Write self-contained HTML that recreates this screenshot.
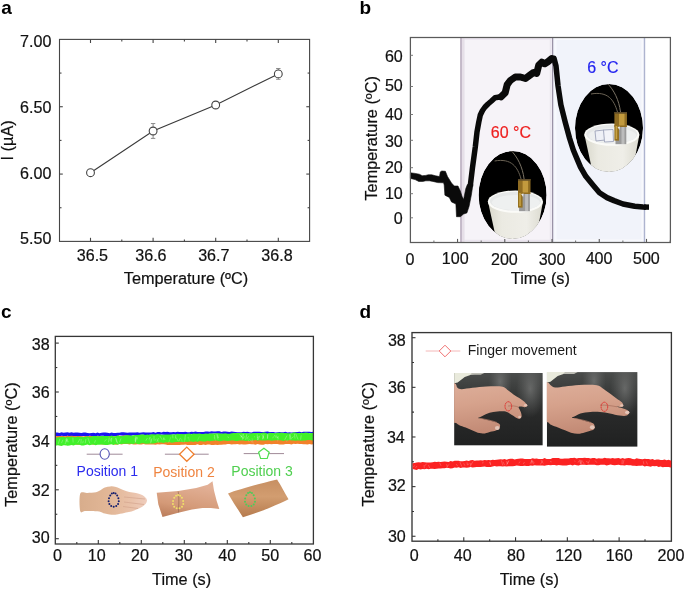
<!DOCTYPE html>
<html><head><meta charset="utf-8"><style>
html,body{margin:0;padding:0;background:#fff;}
svg{display:block;filter:blur(0.35px);}
text{font-family:"Liberation Sans", sans-serif;}
</style></head><body>
<svg width="685" height="590" viewBox="0 0 685 590" font-family="Liberation Sans, sans-serif">
<rect width="685" height="590" fill="#fff"/>
<text x="1.30" y="14.10" font-size="19" text-anchor="start" fill="#000" font-weight="bold" >a</text>
<text x="359.50" y="14.30" font-size="19" text-anchor="start" fill="#000" font-weight="bold" >b</text>
<text x="1.10" y="317.60" font-size="19" text-anchor="start" fill="#000" font-weight="bold" >c</text>
<text x="359.50" y="317.90" font-size="19" text-anchor="start" fill="#000" font-weight="bold" >d</text>
<rect x="59.50" y="39.40" width="250.10" height="202.00" fill="none" stroke="#454545" stroke-width="1.1"/>
<line x1="90.50" y1="241.40" x2="90.50" y2="237.80" stroke="#454545" stroke-width="1.1" />
<line x1="90.50" y1="39.40" x2="90.50" y2="43.00" stroke="#454545" stroke-width="1.1" />
<text x="92.40" y="261.40" font-size="16.1" text-anchor="middle" fill="#111" stroke="#111" stroke-width="0.2">36.5</text>
<line x1="153.10" y1="241.40" x2="153.10" y2="237.80" stroke="#454545" stroke-width="1.1" />
<line x1="153.10" y1="39.40" x2="153.10" y2="43.00" stroke="#454545" stroke-width="1.1" />
<text x="150.90" y="261.40" font-size="16.1" text-anchor="middle" fill="#111" stroke="#111" stroke-width="0.2">36.6</text>
<line x1="215.70" y1="241.40" x2="215.70" y2="237.80" stroke="#454545" stroke-width="1.1" />
<line x1="215.70" y1="39.40" x2="215.70" y2="43.00" stroke="#454545" stroke-width="1.1" />
<text x="213.80" y="261.40" font-size="16.1" text-anchor="middle" fill="#111" stroke="#111" stroke-width="0.2">36.7</text>
<line x1="278.30" y1="241.40" x2="278.30" y2="237.80" stroke="#454545" stroke-width="1.1" />
<line x1="278.30" y1="39.40" x2="278.30" y2="43.00" stroke="#454545" stroke-width="1.1" />
<text x="277.00" y="261.40" font-size="16.1" text-anchor="middle" fill="#111" stroke="#111" stroke-width="0.2">36.8</text>
<line x1="121.80" y1="241.40" x2="121.80" y2="239.40" stroke="#454545" stroke-width="1.1" />
<line x1="121.80" y1="39.40" x2="121.80" y2="41.40" stroke="#454545" stroke-width="1.1" />
<line x1="184.40" y1="241.40" x2="184.40" y2="239.40" stroke="#454545" stroke-width="1.1" />
<line x1="184.40" y1="39.40" x2="184.40" y2="41.40" stroke="#454545" stroke-width="1.1" />
<line x1="247.00" y1="241.40" x2="247.00" y2="239.40" stroke="#454545" stroke-width="1.1" />
<line x1="247.00" y1="39.40" x2="247.00" y2="41.40" stroke="#454545" stroke-width="1.1" />
<line x1="59.50" y1="106.73" x2="62.80" y2="106.73" stroke="#454545" stroke-width="1.1" />
<line x1="309.60" y1="106.73" x2="306.30" y2="106.73" stroke="#454545" stroke-width="1.1" />
<line x1="59.50" y1="174.07" x2="62.80" y2="174.07" stroke="#454545" stroke-width="1.1" />
<line x1="309.60" y1="174.07" x2="306.30" y2="174.07" stroke="#454545" stroke-width="1.1" />
<line x1="59.50" y1="73.07" x2="61.50" y2="73.07" stroke="#454545" stroke-width="1.1" />
<line x1="309.60" y1="73.07" x2="307.60" y2="73.07" stroke="#454545" stroke-width="1.1" />
<line x1="59.50" y1="140.40" x2="61.50" y2="140.40" stroke="#454545" stroke-width="1.1" />
<line x1="309.60" y1="140.40" x2="307.60" y2="140.40" stroke="#454545" stroke-width="1.1" />
<line x1="59.50" y1="207.74" x2="61.50" y2="207.74" stroke="#454545" stroke-width="1.1" />
<line x1="309.60" y1="207.74" x2="307.60" y2="207.74" stroke="#454545" stroke-width="1.1" />
<text x="51.40" y="46.60" font-size="16.1" text-anchor="end" fill="#111" stroke="#111" stroke-width="0.2">7.00</text>
<text x="51.40" y="112.80" font-size="16.1" text-anchor="end" fill="#111" stroke="#111" stroke-width="0.2">6.50</text>
<text x="51.40" y="179.00" font-size="16.1" text-anchor="end" fill="#111" stroke="#111" stroke-width="0.2">6.00</text>
<text x="51.40" y="244.10" font-size="16.1" text-anchor="end" fill="#111" stroke="#111" stroke-width="0.2">5.50</text>
<text x="186.00" y="284.40" font-size="16.3" text-anchor="middle" fill="#111" stroke="#111" stroke-width="0.2">Temperature (ºC)</text>
<text x="0" y="0" font-size="16.3" text-anchor="middle" fill="#111" stroke="#111" stroke-width="0.2" transform="translate(13.20,140.40) rotate(-90)">I (µA)</text>
<polyline points="90.5,172.7 153.1,131.0 215.7,105.0 278.3,73.9" fill="none" stroke="#3a3a3a" stroke-width="1.1" />
<line x1="90.50" y1="171.11" x2="90.50" y2="174.34" stroke="#8a8a8a" stroke-width="1" />
<line x1="88.30" y1="171.11" x2="92.70" y2="171.11" stroke="#8a8a8a" stroke-width="1" />
<line x1="88.30" y1="174.34" x2="92.70" y2="174.34" stroke="#8a8a8a" stroke-width="1" />
<circle cx="90.50" cy="172.72" r="3.9" fill="#fff" stroke="#444" stroke-width="1.1"/>
<line x1="153.10" y1="123.57" x2="153.10" y2="138.38" stroke="#8a8a8a" stroke-width="1" />
<line x1="150.90" y1="123.57" x2="155.30" y2="123.57" stroke="#8a8a8a" stroke-width="1" />
<line x1="150.90" y1="138.38" x2="155.30" y2="138.38" stroke="#8a8a8a" stroke-width="1" />
<circle cx="153.10" cy="130.98" r="3.9" fill="#fff" stroke="#444" stroke-width="1.1"/>
<line x1="215.70" y1="102.29" x2="215.70" y2="107.68" stroke="#8a8a8a" stroke-width="1" />
<line x1="213.50" y1="102.29" x2="217.90" y2="102.29" stroke="#8a8a8a" stroke-width="1" />
<line x1="213.50" y1="107.68" x2="217.90" y2="107.68" stroke="#8a8a8a" stroke-width="1" />
<circle cx="215.70" cy="104.98" r="3.9" fill="#fff" stroke="#444" stroke-width="1.1"/>
<line x1="278.30" y1="68.49" x2="278.30" y2="79.26" stroke="#8a8a8a" stroke-width="1" />
<line x1="276.10" y1="68.49" x2="280.50" y2="68.49" stroke="#8a8a8a" stroke-width="1" />
<line x1="276.10" y1="79.26" x2="280.50" y2="79.26" stroke="#8a8a8a" stroke-width="1" />
<circle cx="278.30" cy="73.88" r="3.9" fill="#fff" stroke="#444" stroke-width="1.1"/>
<rect x="460.5" y="37.5" width="92" height="205.0" fill="#f6f3f8"/>
<rect x="552.5" y="37.5" width="92" height="205.0" fill="#f1f3fa"/>
<rect x="463.5" y="39.0" width="87" height="201.5" fill="none" stroke="#ebe5ef" stroke-width="1.5"/>
<rect x="555.5" y="39.0" width="87" height="201.5" fill="none" stroke="#f8f9fd" stroke-width="2"/>
<rect x="461.5" y="37.5" width="3" height="205.0" fill="#e6dfe8"/>
<line x1="461.00" y1="37.50" x2="461.00" y2="242.50" stroke="#b9adbf" stroke-width="1.6" />
<line x1="552.60" y1="37.50" x2="552.60" y2="242.50" stroke="#9a92a6" stroke-width="1.3" />
<line x1="644.50" y1="37.50" x2="644.50" y2="242.50" stroke="#aeb4cf" stroke-width="1.4" />
<clipPath id="clip-96"><ellipse cx="609" cy="128" rx="34" ry="44"/></clipPath>
<linearGradient id="cupg-96" x1="0" y1="0" x2="1" y2="0"><stop offset="0" stop-color="#d9d8cc"/><stop offset="0.25" stop-color="#ebeae2"/><stop offset="0.7" stop-color="#efeee8"/><stop offset="1" stop-color="#dcdbd0"/></linearGradient>
<g transform="translate(-96.4,67)"><g clip-path="url(#clip-96)">
<ellipse cx="609" cy="128" rx="34" ry="44" fill="#000"/>
<path d="M617.5,112 C614,100 608,91 591,94" fill="none" stroke="#6a6254" stroke-width="1.0"/>
<path d="M620.5,112 C619,100 614,90 607,83" fill="none" stroke="#7a7264" stroke-width="1.0"/>
<path d="M584.5,135 L593,174 L632,174 L639.3,135 Z" fill="url(#cupg-96)"/>
<ellipse cx="611.8" cy="134.6" rx="27.6" ry="11.2" fill="#fbfbf8"/>
<ellipse cx="611.8" cy="134.2" rx="25.6" ry="9.4" fill="#e6e8e8"/>
<ellipse cx="612.3" cy="135.6" rx="24" ry="7.6" fill="#eef0f0"/>
<rect x="615.5" y="112" width="10.8" height="32.2" fill="#9a9a9a"/>
<rect x="621.5" y="112" width="3" height="32" fill="#bcbcbc"/>
<rect x="614.4" y="112" width="12.5" height="15" fill="#8f6c22"/>
<rect x="619" y="113.5" width="5.5" height="12" fill="#c29a3e"/>
<rect x="614.4" y="125" width="4.6" height="15.6" fill="#94701f"/>
<rect x="615.6" y="126" width="1.6" height="13" fill="#c8a244"/>
<rect x="614.4" y="112" width="12.5" height="1.6" fill="#5c4a2a"/>
<path d="M617.5,127 L620,126.5 L619.5,130 Z" fill="#e8e8e8"/>
</g></g>
<clipPath id="clip0"><ellipse cx="609" cy="128" rx="34" ry="44"/></clipPath>
<linearGradient id="cupg0" x1="0" y1="0" x2="1" y2="0"><stop offset="0" stop-color="#d9d8cc"/><stop offset="0.25" stop-color="#ebeae2"/><stop offset="0.7" stop-color="#efeee8"/><stop offset="1" stop-color="#dcdbd0"/></linearGradient>
<g transform="translate(0,0)"><g clip-path="url(#clip0)">
<ellipse cx="609" cy="128" rx="34" ry="44" fill="#000"/>
<path d="M617.5,112 C614,100 608,91 591,94" fill="none" stroke="#6a6254" stroke-width="1.0"/>
<path d="M620.5,112 C619,100 614,90 607,83" fill="none" stroke="#7a7264" stroke-width="1.0"/>
<path d="M584.5,135 L593,174 L632,174 L639.3,135 Z" fill="url(#cupg0)"/>
<ellipse cx="611.8" cy="134.6" rx="27.6" ry="11.2" fill="#fbfbf8"/>
<ellipse cx="611.8" cy="134.2" rx="25.6" ry="9.4" fill="#e6e8e8"/>
<ellipse cx="612.3" cy="135.6" rx="24" ry="7.6" fill="#eef0f0"/>
<path d="M595,131 L604,130 L605,140 L596,141 Z" fill="#eef0f6" stroke="#9ea4ba" stroke-width="0.9"/>
<path d="M603.5,130 L613,129.5 L613.5,141.5 L604.5,142 Z" fill="#f2f3f8" stroke="#9ea4ba" stroke-width="0.9"/>
<rect x="615.5" y="112" width="10.8" height="32.2" fill="#9a9a9a"/>
<rect x="621.5" y="112" width="3" height="32" fill="#bcbcbc"/>
<rect x="614.4" y="112" width="12.5" height="15" fill="#8f6c22"/>
<rect x="619" y="113.5" width="5.5" height="12" fill="#c29a3e"/>
<rect x="614.4" y="125" width="4.6" height="15.6" fill="#94701f"/>
<rect x="615.6" y="126" width="1.6" height="13" fill="#c8a244"/>
<rect x="614.4" y="112" width="12.5" height="1.6" fill="#5c4a2a"/>
<path d="M617.5,127 L620,126.5 L619.5,130 Z" fill="#e8e8e8"/>
</g></g>
<polygon points="410.4,172.8 415.1,173.4 419.3,174.2 422.2,175.7 425.8,175.4 428.2,174.8 431.7,174.8 435.3,175.7 439.5,176.6 440.3,171.9 441.8,171.0 445.4,171.3 447.5,176.5 451.5,183.0 454.3,186.0 458.0,186.0 460.3,191.0 462.0,196.3 463.6,199.6 465.8,188.6 467.4,184.5 473.0,184.5 472.4,188.1 471.3,195.2 469.1,206.3 466.9,212.9 463.6,214.0 460.3,216.7 456.5,216.7 455.9,204.0 451.5,201.9 449.3,197.4 444.9,195.2 444.2,185.0 443.6,182.8 437.7,182.6 432.9,181.4 429.4,180.8 425.8,180.8 422.8,181.4 418.7,181.4 415.1,179.6 410.4,178.4" fill="#0a0a0a" stroke="#0a0a0a" stroke-width="0.6" stroke-linejoin="round"/>
<polyline points="470.2,186.5 472.5,167.5 475.3,147.0 477.0,132.0 478.8,122.0 480.3,115.0 482.5,110.5 485.0,107.0 488.0,104.0 491.5,101.0 495.0,97.8 501.1,96.8 505.2,92.7 507.2,84.6 510.3,80.5 515.3,77.0 520.4,77.0 525.5,78.5 529.6,75.4 533.7,72.4 536.7,73.4 538.7,65.3 541.8,62.2 544.8,63.8 547.9,61.8 551.5,58.8 554.0,58.3 556.0,66.0 558.0,85.6 560.9,104.8 565.2,122.1 569.5,138.0 573.3,150.0 576.6,157.9 580.5,167.1 585.8,176.3 592.3,184.2 599.5,192.8 607.0,197.6 614.0,200.6 623.0,204.0 634.7,206.2 643.0,207.0 646.0,207.2" fill="none" stroke="#0a0a0a" stroke-width="5.5" stroke-linejoin="round" stroke-linecap="butt"/>
<polyline points="501.1,96.8 505.2,92.7 507.2,84.6 510.3,80.5 515.3,77.0 520.4,77.0 525.5,78.5 529.6,75.4 533.7,72.4 536.7,73.4 538.7,65.3 541.8,62.2 544.8,63.8 547.9,61.8 551.5,58.8" fill="none" stroke="#0a0a0a" stroke-width="7.0" stroke-linejoin="round" stroke-linecap="round"/>
<rect x="644" y="204.4" width="5" height="5.4" fill="#0a0a0a"/>
<text x="510.90" y="137.70" font-size="16" text-anchor="middle" fill="#ee2020" stroke="#ee2020" stroke-width="0.2">60 °C</text>
<text x="602.90" y="72.90" font-size="16" text-anchor="middle" fill="#2424f0" stroke="#2424f0" stroke-width="0.2">6 °C</text>
<rect x="410.40" y="37.50" width="260.00" height="205.00" fill="none" stroke="#5a5a5a" stroke-width="1.25"/>
<line x1="410.40" y1="55.30" x2="413.00" y2="55.30" stroke="#7a7a7a" stroke-width="1.0" />
<text x="402.80" y="61.80" font-size="16.1" text-anchor="end" fill="#111" stroke="#111" stroke-width="0.2">60</text>
<line x1="410.40" y1="86.50" x2="413.00" y2="86.50" stroke="#7a7a7a" stroke-width="1.0" />
<text x="402.80" y="91.40" font-size="16.1" text-anchor="end" fill="#111" stroke="#111" stroke-width="0.2">50</text>
<line x1="410.40" y1="114.50" x2="413.00" y2="114.50" stroke="#7a7a7a" stroke-width="1.0" />
<text x="402.80" y="120.20" font-size="16.1" text-anchor="end" fill="#111" stroke="#111" stroke-width="0.2">40</text>
<line x1="410.40" y1="140.30" x2="413.00" y2="140.30" stroke="#7a7a7a" stroke-width="1.0" />
<text x="402.80" y="147.00" font-size="16.1" text-anchor="end" fill="#111" stroke="#111" stroke-width="0.2">30</text>
<line x1="410.40" y1="167.70" x2="413.00" y2="167.70" stroke="#7a7a7a" stroke-width="1.0" />
<text x="402.80" y="172.90" font-size="16.1" text-anchor="end" fill="#111" stroke="#111" stroke-width="0.2">20</text>
<line x1="410.40" y1="193.70" x2="413.00" y2="193.70" stroke="#7a7a7a" stroke-width="1.0" />
<text x="402.80" y="199.00" font-size="16.1" text-anchor="end" fill="#111" stroke="#111" stroke-width="0.2">10</text>
<line x1="410.40" y1="217.80" x2="413.00" y2="217.80" stroke="#7a7a7a" stroke-width="1.0" />
<text x="402.80" y="224.40" font-size="16.1" text-anchor="end" fill="#111" stroke="#111" stroke-width="0.2">0</text>
<text x="409.90" y="265.20" font-size="16.1" text-anchor="middle" fill="#111" stroke="#111" stroke-width="0.2">0</text>
<line x1="433.92" y1="242.50" x2="433.92" y2="240.50" stroke="#6a6a6a" stroke-width="1.0" />
<line x1="457.54" y1="242.50" x2="457.54" y2="238.90" stroke="#5a5a5a" stroke-width="1.1" />
<text x="455.20" y="264.20" font-size="16.1" text-anchor="middle" fill="#111" stroke="#111" stroke-width="0.2">100</text>
<line x1="481.16" y1="242.50" x2="481.16" y2="240.50" stroke="#6a6a6a" stroke-width="1.0" />
<line x1="504.78" y1="242.50" x2="504.78" y2="238.90" stroke="#5a5a5a" stroke-width="1.1" />
<text x="504.40" y="264.60" font-size="16.1" text-anchor="middle" fill="#111" stroke="#111" stroke-width="0.2">200</text>
<line x1="528.40" y1="242.50" x2="528.40" y2="240.50" stroke="#6a6a6a" stroke-width="1.0" />
<line x1="552.02" y1="242.50" x2="552.02" y2="238.90" stroke="#5a5a5a" stroke-width="1.1" />
<text x="552.10" y="264.60" font-size="16.1" text-anchor="middle" fill="#111" stroke="#111" stroke-width="0.2">300</text>
<line x1="575.64" y1="242.50" x2="575.64" y2="240.50" stroke="#6a6a6a" stroke-width="1.0" />
<line x1="599.26" y1="242.50" x2="599.26" y2="238.90" stroke="#5a5a5a" stroke-width="1.1" />
<text x="599.10" y="264.10" font-size="16.1" text-anchor="middle" fill="#111" stroke="#111" stroke-width="0.2">400</text>
<line x1="622.88" y1="242.50" x2="622.88" y2="240.50" stroke="#6a6a6a" stroke-width="1.0" />
<line x1="646.50" y1="242.50" x2="646.50" y2="238.90" stroke="#5a5a5a" stroke-width="1.1" />
<text x="646.40" y="264.10" font-size="16.1" text-anchor="middle" fill="#111" stroke="#111" stroke-width="0.2">500</text>
<line x1="670.12" y1="242.50" x2="670.12" y2="240.50" stroke="#6a6a6a" stroke-width="1.0" />
<text x="540.40" y="283.50" font-size="16.3" text-anchor="middle" fill="#111" stroke="#111" stroke-width="0.2">Time (s)</text>
<text x="0" y="0" font-size="16.3" text-anchor="middle" fill="#111" stroke="#111" stroke-width="0.2" transform="translate(376.50,138.30) rotate(-90)">Temperature (ºC)</text>
<line x1="55.30" y1="538.70" x2="58.80" y2="538.70" stroke="#363636" stroke-width="1.1" />
<line x1="55.30" y1="489.80" x2="58.80" y2="489.80" stroke="#363636" stroke-width="1.1" />
<line x1="55.30" y1="440.90" x2="58.80" y2="440.90" stroke="#363636" stroke-width="1.1" />
<line x1="55.30" y1="392.00" x2="58.80" y2="392.00" stroke="#363636" stroke-width="1.1" />
<line x1="55.30" y1="343.10" x2="58.80" y2="343.10" stroke="#363636" stroke-width="1.1" />
<line x1="55.30" y1="514.25" x2="57.30" y2="514.25" stroke="#363636" stroke-width="1.1" />
<line x1="55.30" y1="465.35" x2="57.30" y2="465.35" stroke="#363636" stroke-width="1.1" />
<line x1="55.30" y1="416.45" x2="57.30" y2="416.45" stroke="#363636" stroke-width="1.1" />
<line x1="55.30" y1="367.55" x2="57.30" y2="367.55" stroke="#363636" stroke-width="1.1" />
<polygon points="55.5,432.5 57.5,432.4 59.5,432.9 61.5,432.3 63.5,432.8 65.5,432.6 67.5,432.3 69.5,432.8 71.5,432.3 73.5,432.7 75.5,432.4 77.5,432.4 79.5,432.7 81.5,433.1 83.5,432.5 85.5,432.6 87.5,432.9 89.5,433.2 91.5,432.9 93.5,432.7 95.5,433.3 97.5,432.4 99.5,433.2 101.5,432.7 103.5,432.6 105.5,432.5 107.5,432.7 109.5,433.2 111.5,432.6 113.5,432.9 115.5,432.9 117.5,432.7 119.5,432.8 121.5,432.3 123.5,432.3 125.5,432.4 127.5,432.8 129.5,432.5 131.5,432.4 133.5,432.6 135.5,432.5 137.5,432.3 139.5,432.7 141.5,432.6 143.5,432.2 145.5,432.4 147.5,432.4 149.5,432.6 151.5,432.5 153.5,432.1 155.5,432.7 157.5,431.9 159.5,432.1 161.5,432.4 163.5,431.8 165.5,432.1 167.5,431.7 169.5,432.2 171.5,432.3 173.5,432.1 175.5,432.3 177.5,431.8 179.5,432.1 181.5,432.0 183.5,432.0 185.5,431.8 187.5,432.2 189.5,432.2 191.5,431.8 193.5,431.9 195.5,431.4 197.5,431.9 199.5,431.9 201.5,432.1 203.5,432.0 205.5,431.5 207.5,431.5 209.5,431.8 211.5,431.2 213.5,431.6 215.5,431.4 217.5,431.3 219.5,431.3 221.5,432.0 223.5,431.4 225.5,431.5 227.5,431.7 229.5,432.1 231.5,431.4 233.5,431.8 235.5,431.9 237.5,432.2 239.5,432.2 241.5,432.2 243.5,431.7 245.5,431.9 247.5,431.8 249.5,432.3 251.5,432.4 253.5,431.7 255.5,431.7 257.5,431.8 259.5,431.8 261.5,432.0 263.5,432.1 265.5,431.8 267.5,431.6 269.5,432.0 271.5,431.9 273.5,432.1 275.5,432.4 277.5,432.2 279.5,432.1 281.5,432.2 283.5,432.2 285.5,431.7 287.5,432.4 289.5,432.3 291.5,432.4 293.5,432.3 295.5,432.0 297.5,432.0 299.5,431.7 301.5,432.2 303.5,431.7 305.5,431.7 307.5,431.8 309.5,431.8 311.5,432.0 313.2,431.7 313.2,433.2 311.5,433.3 309.5,433.3 307.5,433.5 305.5,433.2 303.5,434.0 301.5,433.7 299.5,433.3 297.5,433.4 295.5,433.5 293.5,433.5 291.5,433.3 289.5,434.0 287.5,434.1 285.5,433.7 283.5,433.7 281.5,433.3 279.5,433.3 277.5,433.6 275.5,433.5 273.5,434.0 271.5,433.4 269.5,433.3 267.5,434.2 265.5,433.8 263.5,433.4 261.5,433.8 259.5,433.3 257.5,433.8 255.5,434.2 253.5,434.1 251.5,434.0 249.5,433.6 247.5,433.7 245.5,433.5 243.5,434.1 241.5,433.9 239.5,434.1 237.5,433.7 235.5,433.6 233.5,434.2 231.5,434.3 229.5,434.2 227.5,434.2 225.5,434.2 223.5,434.1 221.5,433.7 219.5,434.0 217.5,433.8 215.5,433.5 213.5,433.6 211.5,433.8 209.5,433.8 207.5,434.2 205.5,434.5 203.5,434.1 201.5,434.5 199.5,434.6 197.5,434.6 195.5,434.1 193.5,434.0 191.5,434.0 189.5,434.0 187.5,434.1 185.5,434.5 183.5,434.8 181.5,434.7 179.5,434.4 177.5,434.6 175.5,434.8 173.5,434.2 171.5,434.7 169.5,435.0 167.5,434.9 165.5,434.9 163.5,434.7 161.5,434.4 159.5,435.0 157.5,434.6 155.5,435.1 153.5,435.3 151.5,434.8 149.5,434.8 147.5,435.4 145.5,435.2 143.5,434.8 141.5,434.8 139.5,434.9 137.5,435.6 135.5,435.6 133.5,435.0 131.5,435.7 129.5,435.9 127.5,435.7 125.5,435.4 123.5,435.7 121.5,435.4 119.5,435.3 117.5,436.2 115.5,436.0 113.5,435.9 111.5,436.3 109.5,435.9 107.5,436.3 105.5,436.3 103.5,435.8 101.5,435.8 99.5,435.9 97.5,435.8 95.5,436.2 93.5,435.9 91.5,436.0 89.5,435.8 87.5,436.5 85.5,436.0 83.5,436.1 81.5,436.2 79.5,436.5 77.5,436.1 75.5,436.6 73.5,436.2 71.5,436.2 69.5,436.2 67.5,435.8 65.5,436.2 63.5,436.0 61.5,435.8 59.5,436.5 57.5,436.0 55.5,436.3" fill="#1a14f2" />
<polygon points="55.5,436.2 57.5,436.1 59.5,435.9 61.5,436.0 63.5,436.1 65.5,436.3 67.5,435.7 69.5,436.1 71.5,435.8 73.5,435.9 75.5,436.3 77.5,436.1 79.5,436.1 81.5,436.3 83.5,436.5 85.5,436.1 87.5,436.2 89.5,436.1 91.5,436.1 93.5,436.3 95.5,436.1 97.5,436.2 99.5,436.1 101.5,436.6 103.5,436.4 105.5,436.5 107.5,436.6 109.5,436.0 111.5,436.2 113.5,436.5 115.5,436.4 117.5,435.7 119.5,435.7 121.5,435.9 123.5,435.6 125.5,435.7 127.5,435.5 129.5,436.0 131.5,436.1 133.5,436.1 135.5,435.4 137.5,435.9 139.5,435.8 141.5,435.3 143.5,436.0 145.5,436.0 147.5,435.3 149.5,435.9 151.5,435.4 153.5,435.5 155.5,436.0 157.5,435.8 159.5,435.3 161.5,435.5 163.5,435.6 165.5,435.5 167.5,435.3 169.5,435.5 171.5,435.8 173.5,435.2 175.5,435.7 177.5,435.6 179.5,435.2 181.5,435.5 183.5,435.8 185.5,435.7 187.5,435.3 189.5,436.2 191.5,436.0 193.5,436.2 195.5,435.4 197.5,435.6 199.5,435.4 201.5,436.1 203.5,435.6 205.5,435.5 207.5,435.8 209.5,436.2 211.5,436.2 213.5,435.7 215.5,435.6 217.5,436.3 219.5,436.0 221.5,436.1 223.5,435.6 225.5,435.6 227.5,436.1 229.5,435.9 231.5,435.6 233.5,436.4 235.5,436.1 237.5,436.3 239.5,435.7 241.5,436.4 243.5,435.7 245.5,436.4 247.5,436.1 249.5,436.0 251.5,436.2 253.5,436.5 255.5,435.9 257.5,435.8 259.5,436.2 261.5,435.9 263.5,435.8 265.5,435.9 267.5,435.8 269.5,436.0 271.5,436.1 273.5,436.1 275.5,436.5 277.5,436.1 279.5,436.3 281.5,436.0 283.5,436.2 285.5,435.9 287.5,436.1 289.5,435.9 291.5,436.6 293.5,436.4 295.5,436.1 297.5,436.4 299.5,436.8 301.5,436.1 303.5,436.7 305.5,436.4 307.5,436.5 309.5,436.8 311.5,436.4 313.2,436.5 313.2,444.3 311.5,444.5 309.5,444.0 307.5,444.4 305.5,444.3 303.5,444.3 301.5,444.1 299.5,444.0 297.5,443.8 295.5,443.9 293.5,443.8 291.5,444.4 289.5,444.0 287.5,443.9 285.5,443.9 283.5,444.5 281.5,444.6 279.5,444.4 277.5,444.1 275.5,444.0 273.5,444.1 271.5,444.3 269.5,444.0 267.5,444.3 265.5,444.1 263.5,444.8 261.5,444.8 259.5,444.4 257.5,444.1 255.5,444.8 253.5,444.2 251.5,444.3 249.5,444.0 247.5,444.3 245.5,444.4 243.5,444.5 241.5,444.2 239.5,444.5 237.5,444.0 235.5,444.3 233.5,444.2 231.5,444.4 229.5,444.1 227.5,444.1 225.5,444.4 223.5,444.4 221.5,444.7 219.5,444.7 217.5,444.9 215.5,444.8 213.5,444.9 211.5,445.0 209.5,444.6 207.5,444.6 205.5,445.1 203.5,444.4 201.5,444.9 199.5,444.9 197.5,444.3 195.5,445.0 193.5,445.1 191.5,444.9 189.5,445.0 187.5,445.0 185.5,444.4 183.5,444.8 181.5,444.8 179.5,445.1 177.5,445.1 175.5,445.1 173.5,444.9 171.5,445.1 169.5,444.9 167.5,444.9 165.5,444.4 163.5,444.2 161.5,444.3 159.5,444.4 157.5,444.2 155.5,444.8 153.5,444.5 151.5,444.5 149.5,444.5 147.5,444.6 145.5,444.4 143.5,443.9 141.5,444.6 139.5,444.6 137.5,444.3 135.5,444.4 133.5,444.5 131.5,443.9 129.5,444.5 127.5,444.1 125.5,443.9 123.5,444.1 121.5,444.5 119.5,444.0 117.5,444.5 115.5,444.7 113.5,444.2 111.5,444.1 109.5,444.2 107.5,444.4 105.5,444.5 103.5,444.4 101.5,444.5 99.5,444.0 97.5,444.1 95.5,444.2 93.5,444.7 91.5,444.3 89.5,444.6 87.5,444.1 85.5,444.2 83.5,444.4 81.5,444.8 79.5,444.8 77.5,444.8 75.5,444.5 73.5,444.8 71.5,444.7 69.5,444.8 67.5,444.5 65.5,445.2 63.5,444.6 61.5,445.3 59.5,445.3 57.5,444.5 55.5,445.0" fill="#f2812a" />
<polygon points="55.5,437.5 57.5,437.6 59.5,437.1 61.5,436.9 63.5,436.8 65.5,437.4 67.5,436.7 69.5,437.0 71.5,436.6 73.5,436.9 75.5,437.2 77.5,436.4 79.5,437.0 81.5,436.7 83.5,437.0 85.5,436.8 87.5,436.3 89.5,436.9 91.5,436.5 93.5,436.0 95.5,435.9 97.5,436.3 99.5,436.3 101.5,436.1 103.5,435.9 105.5,436.1 107.5,436.0 109.5,436.4 111.5,435.6 113.5,436.2 115.5,436.2 117.5,435.5 119.5,436.1 121.5,435.9 123.5,436.0 125.5,435.3 127.5,435.3 129.5,435.3 131.5,435.7 133.5,435.3 135.5,435.0 137.5,435.0 139.5,434.8 141.5,434.5 143.5,434.5 145.5,435.1 147.5,434.5 149.5,435.0 151.5,434.3 153.5,434.3 155.5,434.5 157.5,434.2 159.5,434.3 161.5,434.8 163.5,434.7 165.5,434.6 167.5,434.4 169.5,434.6 171.5,434.6 173.5,434.3 175.5,434.4 177.5,433.7 179.5,434.3 181.5,434.0 183.5,434.3 185.5,434.1 187.5,433.8 189.5,433.5 191.5,434.3 193.5,433.5 195.5,433.8 197.5,433.7 199.5,433.6 201.5,434.0 203.5,434.1 205.5,433.5 207.5,433.8 209.5,433.4 211.5,433.6 213.5,433.5 215.5,433.2 217.5,433.2 219.5,433.2 221.5,433.8 223.5,433.4 225.5,433.2 227.5,433.7 229.5,433.8 231.5,433.3 233.5,433.0 235.5,433.0 237.5,432.9 239.5,433.1 241.5,432.8 243.5,432.9 245.5,432.9 247.5,433.2 249.5,433.5 251.5,433.3 253.5,433.0 255.5,433.0 257.5,433.1 259.5,432.9 261.5,432.9 263.5,432.6 265.5,432.8 267.5,433.4 269.5,432.7 271.5,433.0 273.5,433.1 275.5,433.3 277.5,432.7 279.5,432.8 281.5,432.7 283.5,432.9 285.5,432.9 287.5,433.3 289.5,433.2 291.5,433.2 293.5,432.5 295.5,432.5 297.5,433.1 299.5,433.2 301.5,432.8 303.5,432.9 305.5,432.4 307.5,432.7 309.5,433.2 311.5,433.1 313.2,433.1 313.2,440.8 311.5,440.2 309.5,440.1 307.5,440.1 305.5,440.4 303.5,440.6 301.5,440.8 299.5,440.6 297.5,440.6 295.5,440.7 293.5,440.4 291.5,440.5 289.5,440.1 287.5,440.7 285.5,440.2 283.5,440.9 281.5,440.6 279.5,440.3 277.5,440.2 275.5,440.3 273.5,440.6 271.5,440.7 269.5,440.2 267.5,440.2 265.5,440.6 263.5,440.6 261.5,440.5 259.5,440.3 257.5,440.7 255.5,440.1 253.5,440.4 251.5,440.6 249.5,441.0 247.5,440.8 245.5,441.0 243.5,440.6 241.5,440.4 239.5,440.5 237.5,441.1 235.5,440.9 233.5,440.6 231.5,440.4 229.5,440.8 227.5,441.0 225.5,440.8 223.5,440.6 221.5,441.0 219.5,441.3 217.5,440.7 215.5,440.5 213.5,440.8 211.5,440.9 209.5,441.2 207.5,440.8 205.5,441.4 203.5,441.4 201.5,441.3 199.5,441.1 197.5,441.9 195.5,441.3 193.5,441.9 191.5,441.4 189.5,441.5 187.5,442.0 185.5,441.7 183.5,442.3 181.5,442.0 179.5,441.8 177.5,441.9 175.5,442.1 173.5,442.4 171.5,442.7 169.5,442.1 167.5,442.4 165.5,442.3 163.5,443.1 161.5,442.4 159.5,442.4 157.5,442.5 155.5,442.9 153.5,443.4 151.5,443.5 149.5,443.4 147.5,443.7 145.5,443.7 143.5,443.3 141.5,443.2 139.5,444.0 137.5,443.9 135.5,443.3 133.5,443.9 131.5,443.7 129.5,443.8 127.5,443.8 125.5,443.8 123.5,443.7 121.5,444.0 119.5,444.1 117.5,444.7 115.5,444.1 113.5,444.9 111.5,444.3 109.5,444.5 107.5,444.9 105.5,445.0 103.5,444.7 101.5,444.4 99.5,444.8 97.5,444.7 95.5,445.2 93.5,444.6 91.5,444.8 89.5,445.3 87.5,444.6 85.5,445.0 83.5,445.4 81.5,445.4 79.5,444.7 77.5,444.8 75.5,444.8 73.5,445.6 71.5,445.1 69.5,445.6 67.5,445.7 65.5,445.3 63.5,445.2 61.5,445.9 59.5,445.6 57.5,445.3 55.5,445.8" fill="#41f02a" />
<line x1="136.4" y1="436.7" x2="137.7" y2="439.4" stroke="#ffffff" stroke-width="0.6" stroke-opacity="0.45"/><line x1="287.0" y1="435.5" x2="284.7" y2="439.8" stroke="#ffffff" stroke-width="0.6" stroke-opacity="0.45"/><line x1="115.7" y1="438.2" x2="118.0" y2="443.7" stroke="#ffffff" stroke-width="0.6" stroke-opacity="0.45"/><line x1="154.0" y1="436.0" x2="154.0" y2="440.4" stroke="#ffffff" stroke-width="0.6" stroke-opacity="0.45"/><line x1="290.0" y1="434.0" x2="291.1" y2="439.3" stroke="#ffffff" stroke-width="0.6" stroke-opacity="0.45"/><line x1="263.5" y1="436.1" x2="262.7" y2="438.8" stroke="#ffffff" stroke-width="0.6" stroke-opacity="0.45"/><line x1="137.2" y1="436.9" x2="135.1" y2="442.3" stroke="#ffffff" stroke-width="0.6" stroke-opacity="0.45"/><line x1="106.5" y1="439.5" x2="104.3" y2="441.3" stroke="#ffffff" stroke-width="0.6" stroke-opacity="0.45"/><line x1="65.5" y1="439.5" x2="67.9" y2="442.4" stroke="#ffffff" stroke-width="0.6" stroke-opacity="0.45"/><line x1="278.8" y1="436.7" x2="276.7" y2="437.6" stroke="#ffffff" stroke-width="0.6" stroke-opacity="0.45"/><line x1="81.2" y1="439.0" x2="80.9" y2="443.5" stroke="#ffffff" stroke-width="0.6" stroke-opacity="0.45"/><line x1="115.8" y1="437.9" x2="116.7" y2="442.5" stroke="#ffffff" stroke-width="0.6" stroke-opacity="0.45"/><line x1="244.7" y1="436.4" x2="242.8" y2="439.1" stroke="#ffffff" stroke-width="0.6" stroke-opacity="0.45"/><line x1="268.1" y1="434.5" x2="267.4" y2="438.6" stroke="#ffffff" stroke-width="0.6" stroke-opacity="0.45"/><line x1="242.3" y1="434.3" x2="241.0" y2="437.7" stroke="#ffffff" stroke-width="0.6" stroke-opacity="0.45"/><line x1="95.5" y1="440.2" x2="94.6" y2="442.8" stroke="#ffffff" stroke-width="0.6" stroke-opacity="0.45"/><line x1="156.4" y1="438.7" x2="155.1" y2="440.6" stroke="#ffffff" stroke-width="0.6" stroke-opacity="0.45"/><line x1="259.9" y1="435.7" x2="257.9" y2="440.0" stroke="#ffffff" stroke-width="0.6" stroke-opacity="0.45"/><line x1="176.2" y1="437.5" x2="178.2" y2="441.1" stroke="#ffffff" stroke-width="0.6" stroke-opacity="0.45"/><line x1="67.1" y1="438.6" x2="65.6" y2="441.6" stroke="#ffffff" stroke-width="0.6" stroke-opacity="0.45"/><line x1="301.2" y1="435.3" x2="300.6" y2="439.7" stroke="#ffffff" stroke-width="0.6" stroke-opacity="0.45"/><line x1="274.4" y1="435.0" x2="275.8" y2="437.6" stroke="#ffffff" stroke-width="0.6" stroke-opacity="0.45"/><line x1="294.4" y1="433.7" x2="295.0" y2="438.6" stroke="#ffffff" stroke-width="0.6" stroke-opacity="0.45"/><line x1="111.6" y1="437.9" x2="110.1" y2="440.8" stroke="#ffffff" stroke-width="0.6" stroke-opacity="0.45"/><line x1="121.0" y1="438.4" x2="119.5" y2="442.4" stroke="#ffffff" stroke-width="0.6" stroke-opacity="0.45"/><line x1="59.9" y1="438.8" x2="58.3" y2="443.8" stroke="#ffffff" stroke-width="0.6" stroke-opacity="0.45"/><line x1="135.4" y1="436.4" x2="135.6" y2="442.4" stroke="#ffffff" stroke-width="0.6" stroke-opacity="0.45"/><line x1="72.9" y1="437.7" x2="73.1" y2="442.5" stroke="#ffffff" stroke-width="0.6" stroke-opacity="0.45"/><line x1="217.4" y1="434.3" x2="218.4" y2="437.7" stroke="#ffffff" stroke-width="0.6" stroke-opacity="0.45"/><line x1="159.9" y1="436.0" x2="162.1" y2="439.8" stroke="#ffffff" stroke-width="0.6" stroke-opacity="0.45"/><line x1="135.4" y1="437.8" x2="135.0" y2="440.8" stroke="#ffffff" stroke-width="0.6" stroke-opacity="0.45"/><line x1="273.9" y1="436.7" x2="272.4" y2="437.9" stroke="#ffffff" stroke-width="0.6" stroke-opacity="0.45"/><line x1="239.7" y1="434.4" x2="241.7" y2="437.0" stroke="#ffffff" stroke-width="0.6" stroke-opacity="0.45"/><line x1="163.4" y1="437.9" x2="165.3" y2="440.0" stroke="#ffffff" stroke-width="0.6" stroke-opacity="0.45"/><line x1="172.7" y1="435.3" x2="172.9" y2="438.3" stroke="#ffffff" stroke-width="0.6" stroke-opacity="0.45"/><line x1="217.8" y1="436.9" x2="218.4" y2="437.5" stroke="#ffffff" stroke-width="0.6" stroke-opacity="0.45"/><line x1="150.1" y1="437.0" x2="149.0" y2="439.5" stroke="#ffffff" stroke-width="0.6" stroke-opacity="0.45"/><line x1="187.8" y1="437.6" x2="187.8" y2="438.2" stroke="#ffffff" stroke-width="0.6" stroke-opacity="0.45"/><line x1="259.0" y1="436.7" x2="257.1" y2="437.5" stroke="#ffffff" stroke-width="0.6" stroke-opacity="0.45"/><line x1="293.7" y1="436.6" x2="291.5" y2="438.3" stroke="#ffffff" stroke-width="0.6" stroke-opacity="0.45"/><line x1="289.5" y1="434.7" x2="290.1" y2="439.7" stroke="#ffffff" stroke-width="0.6" stroke-opacity="0.45"/><line x1="264.0" y1="434.1" x2="262.6" y2="439.4" stroke="#ffffff" stroke-width="0.6" stroke-opacity="0.45"/><line x1="158.5" y1="438.1" x2="156.9" y2="441.7" stroke="#ffffff" stroke-width="0.6" stroke-opacity="0.45"/><line x1="111.8" y1="438.0" x2="111.2" y2="442.2" stroke="#ffffff" stroke-width="0.6" stroke-opacity="0.45"/><line x1="87.9" y1="438.0" x2="89.9" y2="443.5" stroke="#ffffff" stroke-width="0.6" stroke-opacity="0.45"/><line x1="67.3" y1="439.5" x2="65.0" y2="444.0" stroke="#ffffff" stroke-width="0.6" stroke-opacity="0.45"/><line x1="267.4" y1="433.9" x2="267.6" y2="438.7" stroke="#ffffff" stroke-width="0.6" stroke-opacity="0.45"/><line x1="214.4" y1="435.0" x2="214.8" y2="438.6" stroke="#ffffff" stroke-width="0.6" stroke-opacity="0.45"/><line x1="163.9" y1="437.3" x2="163.6" y2="440.1" stroke="#ffffff" stroke-width="0.6" stroke-opacity="0.45"/><line x1="62.9" y1="439.8" x2="61.5" y2="443.1" stroke="#ffffff" stroke-width="0.6" stroke-opacity="0.45"/><line x1="248.7" y1="436.2" x2="247.1" y2="438.4" stroke="#ffffff" stroke-width="0.6" stroke-opacity="0.45"/><line x1="175.8" y1="435.0" x2="175.4" y2="438.6" stroke="#ffffff" stroke-width="0.6" stroke-opacity="0.45"/><line x1="80.0" y1="438.9" x2="77.7" y2="442.8" stroke="#ffffff" stroke-width="0.6" stroke-opacity="0.45"/><line x1="216.7" y1="434.3" x2="218.1" y2="439.6" stroke="#ffffff" stroke-width="0.6" stroke-opacity="0.45"/><line x1="185.4" y1="434.7" x2="184.8" y2="439.6" stroke="#ffffff" stroke-width="0.6" stroke-opacity="0.45"/><line x1="295.7" y1="433.8" x2="298.1" y2="439.5" stroke="#ffffff" stroke-width="0.6" stroke-opacity="0.45"/><line x1="240.8" y1="436.4" x2="243.2" y2="437.6" stroke="#ffffff" stroke-width="0.6" stroke-opacity="0.45"/><line x1="180.5" y1="437.9" x2="178.8" y2="441.2" stroke="#ffffff" stroke-width="0.6" stroke-opacity="0.45"/><line x1="254.9" y1="436.6" x2="254.1" y2="437.0" stroke="#ffffff" stroke-width="0.6" stroke-opacity="0.45"/><line x1="246.8" y1="434.2" x2="245.7" y2="439.8" stroke="#ffffff" stroke-width="0.6" stroke-opacity="0.45"/><line x1="261.7" y1="434.0" x2="263.8" y2="438.4" stroke="#ffffff" stroke-width="0.6" stroke-opacity="0.45"/><line x1="109.3" y1="437.6" x2="108.4" y2="442.3" stroke="#ffffff" stroke-width="0.6" stroke-opacity="0.45"/><line x1="66.2" y1="438.2" x2="68.4" y2="441.8" stroke="#ffffff" stroke-width="0.6" stroke-opacity="0.45"/><line x1="227.6" y1="436.8" x2="229.0" y2="437.6" stroke="#ffffff" stroke-width="0.6" stroke-opacity="0.45"/><line x1="85.9" y1="439.1" x2="85.2" y2="443.2" stroke="#ffffff" stroke-width="0.6" stroke-opacity="0.45"/><line x1="276.1" y1="435.3" x2="278.0" y2="438.6" stroke="#ffffff" stroke-width="0.6" stroke-opacity="0.45"/><line x1="83.3" y1="440.8" x2="82.7" y2="443.2" stroke="#ffffff" stroke-width="0.6" stroke-opacity="0.45"/><line x1="257.2" y1="434.4" x2="257.6" y2="440.0" stroke="#ffffff" stroke-width="0.6" stroke-opacity="0.45"/><line x1="147.4" y1="438.1" x2="145.8" y2="440.7" stroke="#ffffff" stroke-width="0.6" stroke-opacity="0.45"/><line x1="243.6" y1="433.8" x2="242.4" y2="439.6" stroke="#ffffff" stroke-width="0.6" stroke-opacity="0.45"/>
<line x1="251.0" y1="440.2" x2="251.8" y2="442.4" stroke="#ffffff" stroke-width="0.5" stroke-opacity="0.3"/><line x1="199.4" y1="436.3" x2="197.6" y2="440.4" stroke="#ffffff" stroke-width="0.5" stroke-opacity="0.3"/><line x1="247.3" y1="438.2" x2="249.3" y2="442.1" stroke="#ffffff" stroke-width="0.5" stroke-opacity="0.3"/><line x1="170.9" y1="437.0" x2="168.5" y2="442.8" stroke="#ffffff" stroke-width="0.5" stroke-opacity="0.3"/><line x1="150.4" y1="437.4" x2="149.7" y2="440.4" stroke="#ffffff" stroke-width="0.5" stroke-opacity="0.3"/><line x1="185.4" y1="438.6" x2="184.0" y2="442.6" stroke="#ffffff" stroke-width="0.5" stroke-opacity="0.3"/><line x1="248.6" y1="438.3" x2="250.8" y2="440.7" stroke="#ffffff" stroke-width="0.5" stroke-opacity="0.3"/><line x1="188.5" y1="436.8" x2="189.2" y2="440.6" stroke="#ffffff" stroke-width="0.5" stroke-opacity="0.3"/><line x1="287.7" y1="439.5" x2="286.5" y2="441.7" stroke="#ffffff" stroke-width="0.5" stroke-opacity="0.3"/><line x1="151.8" y1="438.6" x2="151.1" y2="442.2" stroke="#ffffff" stroke-width="0.5" stroke-opacity="0.3"/><line x1="252.0" y1="438.2" x2="253.2" y2="443.7" stroke="#ffffff" stroke-width="0.5" stroke-opacity="0.3"/><line x1="189.3" y1="439.9" x2="189.4" y2="440.4" stroke="#ffffff" stroke-width="0.5" stroke-opacity="0.3"/><line x1="214.1" y1="437.3" x2="215.5" y2="440.5" stroke="#ffffff" stroke-width="0.5" stroke-opacity="0.3"/><line x1="152.0" y1="438.2" x2="150.2" y2="443.7" stroke="#ffffff" stroke-width="0.5" stroke-opacity="0.3"/><line x1="181.5" y1="438.7" x2="182.2" y2="442.3" stroke="#ffffff" stroke-width="0.5" stroke-opacity="0.3"/><line x1="278.5" y1="437.4" x2="277.5" y2="441.4" stroke="#ffffff" stroke-width="0.5" stroke-opacity="0.3"/><line x1="157.7" y1="439.6" x2="158.7" y2="443.2" stroke="#ffffff" stroke-width="0.5" stroke-opacity="0.3"/><line x1="151.0" y1="439.3" x2="150.8" y2="442.9" stroke="#ffffff" stroke-width="0.5" stroke-opacity="0.3"/>
<rect x="55.30" y="336.40" width="258.10" height="207.60" fill="none" stroke="#363636" stroke-width="1.3"/>
<text x="49.60" y="543.40" font-size="16.1" text-anchor="end" fill="#111" stroke="#111" stroke-width="0.2">30</text>
<text x="49.60" y="495.80" font-size="16.1" text-anchor="end" fill="#111" stroke="#111" stroke-width="0.2">32</text>
<text x="49.60" y="447.20" font-size="16.1" text-anchor="end" fill="#111" stroke="#111" stroke-width="0.2">34</text>
<text x="49.60" y="398.00" font-size="16.1" text-anchor="end" fill="#111" stroke="#111" stroke-width="0.2">36</text>
<text x="49.60" y="349.70" font-size="16.1" text-anchor="end" fill="#111" stroke="#111" stroke-width="0.2">38</text>
<text x="57.40" y="561.40" font-size="16.1" text-anchor="middle" fill="#111" stroke="#111" stroke-width="0.2">0</text>
<line x1="76.80" y1="544.00" x2="76.80" y2="542.00" stroke="#363636" stroke-width="1.1" />
<line x1="98.30" y1="544.00" x2="98.30" y2="540.00" stroke="#363636" stroke-width="1.1" />
<text x="96.80" y="561.40" font-size="16.1" text-anchor="middle" fill="#111" stroke="#111" stroke-width="0.2">10</text>
<line x1="119.80" y1="544.00" x2="119.80" y2="542.00" stroke="#363636" stroke-width="1.1" />
<line x1="141.30" y1="544.00" x2="141.30" y2="540.00" stroke="#363636" stroke-width="1.1" />
<text x="140.00" y="561.40" font-size="16.1" text-anchor="middle" fill="#111" stroke="#111" stroke-width="0.2">20</text>
<line x1="162.80" y1="544.00" x2="162.80" y2="542.00" stroke="#363636" stroke-width="1.1" />
<line x1="184.30" y1="544.00" x2="184.30" y2="540.00" stroke="#363636" stroke-width="1.1" />
<text x="183.70" y="561.40" font-size="16.1" text-anchor="middle" fill="#111" stroke="#111" stroke-width="0.2">30</text>
<line x1="205.80" y1="544.00" x2="205.80" y2="542.00" stroke="#363636" stroke-width="1.1" />
<line x1="227.30" y1="544.00" x2="227.30" y2="540.00" stroke="#363636" stroke-width="1.1" />
<text x="227.20" y="561.40" font-size="16.1" text-anchor="middle" fill="#111" stroke="#111" stroke-width="0.2">40</text>
<line x1="248.80" y1="544.00" x2="248.80" y2="542.00" stroke="#363636" stroke-width="1.1" />
<line x1="270.30" y1="544.00" x2="270.30" y2="540.00" stroke="#363636" stroke-width="1.1" />
<text x="270.30" y="561.40" font-size="16.1" text-anchor="middle" fill="#111" stroke="#111" stroke-width="0.2">50</text>
<line x1="291.80" y1="544.00" x2="291.80" y2="542.00" stroke="#363636" stroke-width="1.1" />
<text x="312.50" y="561.40" font-size="16.1" text-anchor="middle" fill="#111" stroke="#111" stroke-width="0.2">60</text>
<text x="181.60" y="585.30" font-size="16.3" text-anchor="middle" fill="#111" stroke="#111" stroke-width="0.2">Time (s)</text>
<text x="0" y="0" font-size="16.3" text-anchor="middle" fill="#111" stroke="#111" stroke-width="0.2" transform="translate(17.20,444.60) rotate(-90)">Temperature (ºC)</text>
<line x1="86.70" y1="454.20" x2="122.60" y2="454.20" stroke="#a08a98" stroke-width="1" />
<ellipse cx="104.7" cy="454" rx="4.6" ry="5.3" fill="#fff" stroke="#5555b5" stroke-width="1.1"/>
<line x1="164.90" y1="454.20" x2="208.70" y2="454.20" stroke="#a08a98" stroke-width="1" />
<polygon points="186.8,447.1 194.1,454.2 186.8,461.3 179.5,454.2" fill="#fff" stroke="#f08030" stroke-width="1.3"/>
<line x1="243.70" y1="453.60" x2="284.00" y2="453.60" stroke="#a08a98" stroke-width="1" />
<polygon points="263.9,448.2 269.2,452.2 267.2,458.5 260.6,458.5 258.6,452.2" fill="#fff" stroke="#50e050" stroke-width="1.2"/>
<text x="107.30" y="476.40" font-size="14" text-anchor="middle" fill="#2b2bee">Position 1</text>
<text x="184.00" y="476.70" font-size="14" text-anchor="middle" fill="#ef8440">Position 2</text>
<text x="262.10" y="476.20" font-size="14" text-anchor="middle" fill="#4fcf4f">Position 3</text>
<rect x="412.00" y="332.60" width="259.40" height="208.60" fill="none" stroke="#363636" stroke-width="1.35"/>
<line x1="412.00" y1="536.26" x2="415.50" y2="536.26" stroke="#363636" stroke-width="1.1" />
<text x="405.80" y="542.30" font-size="16.1" text-anchor="end" fill="#111" stroke="#111" stroke-width="0.2">30</text>
<line x1="412.00" y1="486.62" x2="415.50" y2="486.62" stroke="#363636" stroke-width="1.1" />
<text x="405.80" y="491.30" font-size="16.1" text-anchor="end" fill="#111" stroke="#111" stroke-width="0.2">32</text>
<line x1="412.00" y1="436.98" x2="415.50" y2="436.98" stroke="#363636" stroke-width="1.1" />
<text x="404.80" y="442.70" font-size="16.1" text-anchor="end" fill="#111" stroke="#111" stroke-width="0.2">34</text>
<line x1="412.00" y1="387.34" x2="415.50" y2="387.34" stroke="#363636" stroke-width="1.1" />
<text x="405.80" y="393.40" font-size="16.1" text-anchor="end" fill="#111" stroke="#111" stroke-width="0.2">36</text>
<line x1="412.00" y1="337.70" x2="415.50" y2="337.70" stroke="#363636" stroke-width="1.1" />
<text x="405.80" y="345.60" font-size="16.1" text-anchor="end" fill="#111" stroke="#111" stroke-width="0.2">38</text>
<line x1="412.00" y1="511.44" x2="414.00" y2="511.44" stroke="#363636" stroke-width="1.1" />
<line x1="412.00" y1="461.80" x2="414.00" y2="461.80" stroke="#363636" stroke-width="1.1" />
<line x1="412.00" y1="412.16" x2="414.00" y2="412.16" stroke="#363636" stroke-width="1.1" />
<line x1="412.00" y1="362.52" x2="414.00" y2="362.52" stroke="#363636" stroke-width="1.1" />
<text x="414.30" y="560.80" font-size="16.1" text-anchor="middle" fill="#111" stroke="#111" stroke-width="0.2">0</text>
<line x1="437.89" y1="541.20" x2="437.89" y2="539.20" stroke="#363636" stroke-width="1.1" />
<line x1="463.78" y1="541.20" x2="463.78" y2="537.20" stroke="#363636" stroke-width="1.1" />
<text x="462.80" y="560.80" font-size="16.1" text-anchor="middle" fill="#111" stroke="#111" stroke-width="0.2">40</text>
<line x1="489.67" y1="541.20" x2="489.67" y2="539.20" stroke="#363636" stroke-width="1.1" />
<line x1="515.56" y1="541.20" x2="515.56" y2="537.20" stroke="#363636" stroke-width="1.1" />
<text x="515.90" y="560.80" font-size="16.1" text-anchor="middle" fill="#111" stroke="#111" stroke-width="0.2">80</text>
<line x1="541.45" y1="541.20" x2="541.45" y2="539.20" stroke="#363636" stroke-width="1.1" />
<line x1="567.34" y1="541.20" x2="567.34" y2="537.20" stroke="#363636" stroke-width="1.1" />
<text x="568.60" y="560.80" font-size="16.1" text-anchor="middle" fill="#111" stroke="#111" stroke-width="0.2">120</text>
<line x1="593.23" y1="541.20" x2="593.23" y2="539.20" stroke="#363636" stroke-width="1.1" />
<line x1="619.12" y1="541.20" x2="619.12" y2="537.20" stroke="#363636" stroke-width="1.1" />
<text x="619.30" y="560.80" font-size="16.1" text-anchor="middle" fill="#111" stroke="#111" stroke-width="0.2">160</text>
<line x1="645.01" y1="541.20" x2="645.01" y2="539.20" stroke="#363636" stroke-width="1.1" />
<text x="671.00" y="560.80" font-size="16.1" text-anchor="middle" fill="#111" stroke="#111" stroke-width="0.2">200</text>
<text x="529.30" y="585.30" font-size="16.3" text-anchor="middle" fill="#111" stroke="#111" stroke-width="0.2">Time (s)</text>
<text x="0" y="0" font-size="16.3" text-anchor="middle" fill="#111" stroke="#111" stroke-width="0.2" transform="translate(374.30,444.20) rotate(-90)">Temperature (ºC)</text>
<polygon points="412.6,463.2 414.6,462.9 416.6,462.5 418.6,462.3 420.6,462.4 422.6,462.1 424.6,462.3 426.6,462.6 428.6,462.5 430.6,462.6 432.6,462.3 434.6,461.8 436.6,462.0 438.6,461.8 440.6,462.1 442.6,461.7 444.6,461.4 446.6,461.7 448.6,461.9 450.6,461.1 452.6,461.6 454.6,460.7 456.6,460.8 458.6,460.7 460.6,461.2 462.6,461.3 464.6,461.0 466.6,460.5 468.6,461.0 470.6,460.3 472.6,460.1 474.6,460.7 476.6,460.4 478.6,460.4 480.6,460.3 482.6,460.5 484.6,460.0 486.6,460.3 488.6,460.1 490.6,460.2 492.6,459.7 494.6,459.9 496.6,459.7 498.6,459.4 500.6,459.2 502.6,459.6 504.6,458.9 506.6,459.7 508.6,458.9 510.6,458.7 512.6,458.8 514.6,459.5 516.6,458.9 518.6,458.7 520.6,458.5 522.6,458.5 524.6,459.1 526.6,459.0 528.6,459.0 530.6,459.0 532.6,458.3 534.6,458.8 536.6,458.5 538.6,458.9 540.6,458.9 542.6,458.9 544.6,458.1 546.6,458.9 548.6,458.9 550.6,458.9 552.6,458.0 554.6,458.1 556.6,458.0 558.6,457.9 560.6,458.7 562.6,458.7 564.6,458.5 566.6,458.6 568.6,458.4 570.6,458.1 572.6,457.9 574.6,457.8 576.6,458.5 578.6,457.9 580.6,458.0 582.6,458.1 584.6,457.7 586.6,458.0 588.6,458.0 590.6,458.4 592.6,458.1 594.6,458.1 596.6,458.7 598.6,458.3 600.6,458.6 602.6,458.4 604.6,457.8 606.6,458.2 608.6,458.2 610.6,458.5 612.6,458.1 614.6,458.5 616.6,458.3 618.6,458.0 620.6,458.7 622.6,458.0 624.6,458.7 626.6,458.2 628.6,458.0 630.6,458.3 632.6,458.9 634.6,459.2 636.6,458.3 638.6,458.8 640.6,458.9 642.6,459.2 644.6,458.7 646.6,459.1 648.6,459.0 650.6,459.6 652.6,459.1 654.6,459.9 656.6,459.4 658.6,459.4 660.6,460.0 662.6,459.9 664.6,459.6 666.6,460.2 668.6,459.8 670.6,460.6 671.2,460.5 671.2,467.6 670.6,467.4 668.6,467.0 666.6,467.0 664.6,466.9 662.6,467.3 660.6,466.4 658.6,467.1 656.6,466.1 654.6,466.2 652.6,466.1 650.6,466.7 648.6,466.2 646.6,466.0 644.6,466.4 642.6,465.6 640.6,465.8 638.6,465.8 636.6,465.9 634.6,465.8 632.6,465.7 630.6,465.3 628.6,465.2 626.6,464.9 624.6,465.5 622.6,465.3 620.6,465.3 618.6,464.7 616.6,464.9 614.6,465.3 612.6,465.1 610.6,464.6 608.6,465.0 606.6,465.4 604.6,464.7 602.6,464.7 600.6,464.8 598.6,465.2 596.6,465.3 594.6,464.7 592.6,464.7 590.6,464.7 588.6,464.8 586.6,465.0 584.6,464.7 582.6,464.8 580.6,464.7 578.6,465.5 576.6,465.3 574.6,464.7 572.6,465.5 570.6,464.7 568.6,465.0 566.6,465.6 564.6,465.5 562.6,465.4 560.6,465.2 558.6,464.9 556.6,465.4 554.6,464.9 552.6,465.0 550.6,465.2 548.6,464.9 546.6,465.3 544.6,465.7 542.6,465.6 540.6,465.5 538.6,465.6 536.6,465.5 534.6,465.2 532.6,465.7 530.6,465.6 528.6,465.9 526.6,466.1 524.6,465.7 522.6,465.9 520.6,466.1 518.6,465.8 516.6,465.6 514.6,466.1 512.6,466.3 510.6,466.3 508.6,466.2 506.6,466.5 504.6,466.3 502.6,466.4 500.6,466.2 498.6,466.2 496.6,466.5 494.6,466.1 492.6,466.5 490.6,466.9 488.6,466.9 486.6,466.9 484.6,466.5 482.6,466.8 480.6,466.9 478.6,467.1 476.6,467.0 474.6,467.3 472.6,467.6 470.6,466.9 468.6,467.5 466.6,467.7 464.6,467.4 462.6,467.6 460.6,468.1 458.6,467.2 456.6,467.8 454.6,467.5 452.6,468.2 450.6,468.4 448.6,468.1 446.6,467.8 444.6,468.3 442.6,468.3 440.6,468.6 438.6,468.5 436.6,468.7 434.6,469.0 432.6,468.7 430.6,468.7 428.6,469.3 426.6,468.7 424.6,469.3 422.6,469.0 420.6,469.5 418.6,469.0 416.6,469.9 414.6,469.4 412.6,469.1" fill="#fb2222" />
<line x1="483.1" y1="461.7" x2="482.7" y2="463.5" stroke="#ffffff" stroke-width="0.6" stroke-opacity="0.35"/><line x1="520.0" y1="461.5" x2="518.8" y2="463.4" stroke="#ffffff" stroke-width="0.6" stroke-opacity="0.35"/><line x1="470.6" y1="463.1" x2="470.7" y2="466.6" stroke="#ffffff" stroke-width="0.6" stroke-opacity="0.35"/><line x1="469.2" y1="463.4" x2="467.7" y2="465.1" stroke="#ffffff" stroke-width="0.6" stroke-opacity="0.35"/><line x1="446.6" y1="464.2" x2="447.3" y2="467.1" stroke="#ffffff" stroke-width="0.6" stroke-opacity="0.35"/><line x1="532.2" y1="460.9" x2="534.5" y2="462.8" stroke="#ffffff" stroke-width="0.6" stroke-opacity="0.35"/><line x1="503.0" y1="461.8" x2="504.6" y2="465.2" stroke="#ffffff" stroke-width="0.6" stroke-opacity="0.35"/><line x1="532.0" y1="460.1" x2="530.1" y2="463.8" stroke="#ffffff" stroke-width="0.6" stroke-opacity="0.35"/><line x1="624.1" y1="459.9" x2="622.9" y2="464.2" stroke="#ffffff" stroke-width="0.6" stroke-opacity="0.35"/><line x1="508.8" y1="460.5" x2="507.2" y2="463.9" stroke="#ffffff" stroke-width="0.6" stroke-opacity="0.35"/><line x1="414.7" y1="465.4" x2="413.4" y2="467.0" stroke="#ffffff" stroke-width="0.6" stroke-opacity="0.35"/><line x1="490.1" y1="461.7" x2="490.7" y2="464.5" stroke="#ffffff" stroke-width="0.6" stroke-opacity="0.35"/><line x1="580.1" y1="459.8" x2="581.9" y2="464.3" stroke="#ffffff" stroke-width="0.6" stroke-opacity="0.35"/><line x1="428.4" y1="465.1" x2="429.8" y2="468.1" stroke="#ffffff" stroke-width="0.6" stroke-opacity="0.35"/><line x1="449.4" y1="464.2" x2="447.0" y2="466.5" stroke="#ffffff" stroke-width="0.6" stroke-opacity="0.35"/><line x1="416.9" y1="466.0" x2="415.6" y2="467.9" stroke="#ffffff" stroke-width="0.6" stroke-opacity="0.35"/><line x1="439.6" y1="462.7" x2="441.0" y2="465.8" stroke="#ffffff" stroke-width="0.6" stroke-opacity="0.35"/><line x1="501.3" y1="460.4" x2="502.8" y2="465.5" stroke="#ffffff" stroke-width="0.6" stroke-opacity="0.35"/><line x1="456.3" y1="464.1" x2="457.7" y2="466.2" stroke="#ffffff" stroke-width="0.6" stroke-opacity="0.35"/><line x1="582.5" y1="461.3" x2="584.1" y2="463.9" stroke="#ffffff" stroke-width="0.6" stroke-opacity="0.35"/><line x1="463.7" y1="463.3" x2="464.9" y2="465.7" stroke="#ffffff" stroke-width="0.6" stroke-opacity="0.35"/><line x1="524.5" y1="462.0" x2="523.3" y2="464.0" stroke="#ffffff" stroke-width="0.6" stroke-opacity="0.35"/><line x1="473.0" y1="461.3" x2="470.8" y2="465.2" stroke="#ffffff" stroke-width="0.6" stroke-opacity="0.35"/><line x1="531.7" y1="459.7" x2="531.7" y2="463.6" stroke="#ffffff" stroke-width="0.6" stroke-opacity="0.35"/><line x1="550.0" y1="461.5" x2="551.7" y2="461.9" stroke="#ffffff" stroke-width="0.6" stroke-opacity="0.35"/><line x1="531.9" y1="460.9" x2="533.6" y2="464.1" stroke="#ffffff" stroke-width="0.6" stroke-opacity="0.35"/><line x1="508.5" y1="461.0" x2="506.4" y2="465.4" stroke="#ffffff" stroke-width="0.6" stroke-opacity="0.35"/><line x1="574.5" y1="460.6" x2="575.1" y2="461.7" stroke="#ffffff" stroke-width="0.6" stroke-opacity="0.35"/><line x1="586.0" y1="461.4" x2="588.4" y2="462.6" stroke="#ffffff" stroke-width="0.6" stroke-opacity="0.35"/><line x1="542.7" y1="460.5" x2="540.3" y2="464.6" stroke="#ffffff" stroke-width="0.6" stroke-opacity="0.35"/><line x1="595.0" y1="460.5" x2="596.8" y2="462.6" stroke="#ffffff" stroke-width="0.6" stroke-opacity="0.35"/><line x1="506.3" y1="461.2" x2="507.6" y2="464.2" stroke="#ffffff" stroke-width="0.6" stroke-opacity="0.35"/><line x1="467.1" y1="462.4" x2="467.4" y2="465.2" stroke="#ffffff" stroke-width="0.6" stroke-opacity="0.35"/><line x1="622.3" y1="459.7" x2="621.9" y2="464.1" stroke="#ffffff" stroke-width="0.6" stroke-opacity="0.35"/><line x1="540.9" y1="459.9" x2="543.3" y2="463.5" stroke="#ffffff" stroke-width="0.6" stroke-opacity="0.35"/><line x1="578.9" y1="461.0" x2="578.0" y2="462.6" stroke="#ffffff" stroke-width="0.6" stroke-opacity="0.35"/><line x1="489.4" y1="462.0" x2="490.8" y2="465.1" stroke="#ffffff" stroke-width="0.6" stroke-opacity="0.35"/><line x1="424.1" y1="465.0" x2="424.3" y2="468.3" stroke="#ffffff" stroke-width="0.6" stroke-opacity="0.35"/><line x1="426.5" y1="463.7" x2="425.0" y2="465.7" stroke="#ffffff" stroke-width="0.6" stroke-opacity="0.35"/><line x1="646.2" y1="461.4" x2="647.6" y2="464.5" stroke="#ffffff" stroke-width="0.6" stroke-opacity="0.35"/><line x1="643.3" y1="461.3" x2="643.9" y2="464.3" stroke="#ffffff" stroke-width="0.6" stroke-opacity="0.35"/><line x1="589.5" y1="460.4" x2="588.1" y2="463.6" stroke="#ffffff" stroke-width="0.6" stroke-opacity="0.35"/><line x1="582.1" y1="460.0" x2="580.1" y2="463.8" stroke="#ffffff" stroke-width="0.6" stroke-opacity="0.35"/><line x1="459.7" y1="461.6" x2="461.8" y2="466.5" stroke="#ffffff" stroke-width="0.6" stroke-opacity="0.35"/><line x1="579.2" y1="459.8" x2="580.7" y2="464.0" stroke="#ffffff" stroke-width="0.6" stroke-opacity="0.35"/>
<line x1="425.70" y1="351.00" x2="460.30" y2="351.00" stroke="#f4b8b8" stroke-width="1" />
<polygon points="445,345.2 450.8,351 445,356.8 439.2,351" fill="#fff" stroke="#f07070" stroke-width="1"/>
<text x="522.20" y="355.00" font-size="14" text-anchor="middle" fill="#1a1a1a">Finger movement</text>
<clipPath id="hp1"><rect x="454.1" y="373.0" width="88.7" height="72.6"/></clipPath>
<linearGradient id="hp1g" x1="0" y1="0" x2="0" y2="1"><stop offset="0" stop-color="#4a4c4b"/><stop offset="0.3" stop-color="#363837"/><stop offset="0.6" stop-color="#282929"/><stop offset="1" stop-color="#202121"/></linearGradient>
<radialGradient id="hp1s"><stop offset="0" stop-color="#8a8b8a" stop-opacity="0.55"/><stop offset="1" stop-color="#777" stop-opacity="0"/></radialGradient>
<linearGradient id="hp1k" x1="0" y1="0" x2="0.2" y2="1"><stop offset="0" stop-color="#dfb19d"/><stop offset="0.5" stop-color="#d6a28c"/><stop offset="1" stop-color="#c38b76"/></linearGradient>
<g clip-path="url(#hp1)">
<rect x="454.1" y="373.0" width="88.7" height="72.6" fill="url(#hp1g)"/>
<ellipse cx="500.22400000000005" cy="381.712" rx="11.531" ry="21.779999999999998" fill="url(#hp1s)"/>
<ellipse cx="530.3820000000001" cy="388.972" rx="14.192" ry="29.04" fill="url(#hp1s)"/>
<path d="M454.1,373.0 L480.71000000000004,373.0 L471.84000000000003,374.5 L464.744,377.0 L457.648,382.438 L454.1,383.164 Z" fill="#e9eadc"/>
<path d="M471.84000000000003,373.0 L484.25800000000004,373.0 L480.71000000000004,374.8 L470.06600000000003,374.8 Z" fill="#bdbdb5"/>
<path d="M454.1,383.0 C457.0,383.8 456.2,386.8 457.5,387.8 C458.8,388.8 459.1,389.2 461.6,389.2 C464.1,389.2 468.5,388.2 472.6,387.8 C476.7,387.4 482.2,386.8 486.3,386.5 C490.4,386.2 494.3,386.1 497.3,386.2 C500.3,386.3 502.3,386.5 504.1,387.2 C505.9,387.9 506.7,389.4 508.3,390.6 C509.9,391.9 512.0,393.4 513.8,394.7 C515.6,395.9 517.6,397.1 519.2,398.1 C520.8,399.1 522.1,399.9 523.4,400.9 C524.7,401.9 526.2,403.4 526.8,404.3 C527.4,405.2 527.6,405.5 527.2,406.0 C526.9,406.5 525.7,407.2 524.7,407.3 C523.7,407.4 522.0,406.6 521.0,406.6 C520.0,406.6 518.7,406.7 518.5,407.2 C518.3,407.7 519.2,408.6 519.6,409.5 C520.0,410.4 520.7,411.3 521.0,412.5 C521.3,413.7 521.8,415.5 521.6,416.5 C521.4,417.5 520.7,418.4 520.0,418.7 C519.3,419.0 518.5,418.9 517.2,418.3 C515.9,417.7 514.1,416.4 512.4,415.3 C510.7,414.2 508.7,412.6 506.9,411.9 C505.1,411.2 503.7,411.2 501.4,411.2 C499.1,411.2 495.7,411.4 493.2,411.9 C490.7,412.3 488.4,413.1 486.3,413.9 C484.2,414.7 482.2,416.0 480.8,416.7 C479.4,417.4 477.9,417.7 478.1,418.0 C478.3,418.3 480.1,418.2 482.2,418.7 C484.2,419.2 487.9,420.1 490.4,420.8 C492.9,421.5 495.7,422.1 497.3,422.8 C498.9,423.5 499.7,424.0 500.0,424.9 C500.3,425.8 500.0,427.4 499.3,428.3 C498.6,429.2 497.4,429.8 495.9,430.4 C494.4,431.0 492.2,431.3 490.4,431.8 C488.6,432.3 486.7,433.2 484.9,433.4 C483.1,433.6 481.4,433.6 479.4,433.1 C477.3,432.6 474.9,431.3 472.6,430.4 C470.3,429.5 468.0,428.5 465.7,427.6 C463.4,426.7 460.8,425.7 458.9,424.9 C457.0,424.1 457.2,423.1 454.1,422.8 C451.0,422.5 442.4,429.4 440.0,422.8 C437.6,416.2 437.6,389.6 440.0,383.0 C442.4,376.4 451.2,382.2 454.1,383.0 Z" fill="url(#hp1k)"/>
<path d="M518.6,407.2 C516,406 512,405.5 508,406" stroke="#a86e5c" stroke-width="0.7" fill="none"/><ellipse cx="525.6" cy="405.2" rx="1.6" ry="1.2" fill="#e3c3b5"/><ellipse cx="519.6" cy="417" rx="1.5" ry="1.3" fill="#dfbfb1"/><ellipse cx="497.3" cy="428" rx="2.4" ry="2" fill="#e2c4b7"/><path d="M480,418.3 C486,419.5 492,420.5 497,422.5" stroke="#b07a66" stroke-width="0.7" fill="none"/><ellipse cx="508.3" cy="406.3" rx="3.3" ry="4.6" fill="none" stroke="#e02020" stroke-width="0.9" stroke-dasharray="1.3,0.5"/>
</g>
<clipPath id="hp2"><rect x="546.8" y="372.1" width="90.8" height="74.7"/></clipPath>
<linearGradient id="hp2g" x1="0" y1="0" x2="0" y2="1"><stop offset="0" stop-color="#4a4c4b"/><stop offset="0.3" stop-color="#363837"/><stop offset="0.6" stop-color="#282929"/><stop offset="1" stop-color="#202121"/></linearGradient>
<radialGradient id="hp2s"><stop offset="0" stop-color="#8a8b8a" stop-opacity="0.55"/><stop offset="1" stop-color="#777" stop-opacity="0"/></radialGradient>
<linearGradient id="hp2k" x1="0" y1="0" x2="0.2" y2="1"><stop offset="0" stop-color="#dfb19d"/><stop offset="0.5" stop-color="#d6a28c"/><stop offset="1" stop-color="#c38b76"/></linearGradient>
<g clip-path="url(#hp2)">
<rect x="546.8" y="372.1" width="90.8" height="74.7" fill="url(#hp2g)"/>
<ellipse cx="594.016" cy="381.064" rx="11.804" ry="22.41" fill="url(#hp2s)"/>
<ellipse cx="624.8879999999999" cy="388.53400000000005" rx="14.528" ry="29.880000000000003" fill="url(#hp2s)"/>
<path d="M546.8,372.1 L574.04,372.1 L564.9599999999999,373.6 L557.6959999999999,376.1 L550.4319999999999,381.81100000000004 L546.8,382.55800000000005 Z" fill="#e9eadc"/>
<path d="M564.9599999999999,372.1 L577.6719999999999,372.1 L574.04,373.90000000000003 L563.144,373.90000000000003 Z" fill="#bdbdb5"/>
<path d="M546.8,381.9 C549.5,382.5 549.6,384.5 551.0,385.4 C552.4,386.3 552.9,387.3 555.2,387.5 C557.5,387.7 561.0,386.9 565.0,386.5 C569.0,386.1 574.8,385.4 579.0,385.1 C583.2,384.8 587.0,384.6 590.3,384.7 C593.6,384.8 596.4,384.9 598.7,385.7 C601.0,386.5 602.2,388.1 604.3,389.6 C606.4,391.1 609.2,393.0 611.3,394.5 C613.4,396.0 615.1,397.4 616.9,398.7 C618.6,400.0 620.8,401.1 621.8,402.2 C622.8,403.2 623.1,404.2 623.2,405.0 C623.3,405.8 623.1,406.4 622.5,406.7 C621.9,407.0 620.7,406.9 619.7,406.9 C618.7,406.9 616.5,406.4 616.5,406.5 C616.5,406.6 618.2,407.2 619.7,407.6 C621.2,408.1 623.7,408.5 625.3,409.2 C626.9,409.9 629.0,410.9 629.2,412.0 C629.4,413.1 628.3,415.0 626.7,415.6 C625.1,416.2 622.5,416.0 619.7,415.6 C616.9,415.2 613.2,414.0 609.9,413.4 C606.6,412.8 603.4,412.2 600.1,412.0 C596.8,411.8 593.6,411.8 590.3,412.0 C587.0,412.2 583.0,412.7 580.4,413.4 C577.8,414.1 576.2,415.6 574.8,416.3 C573.4,417.0 571.8,417.4 572.0,417.7 C572.2,418.0 573.9,417.8 576.2,418.4 C578.5,419.0 583.3,420.4 586.0,421.2 C588.7,422.0 591.0,422.3 592.4,423.0 C593.8,423.7 594.2,424.4 594.5,425.4 C594.8,426.4 594.8,428.0 594.2,428.9 C593.6,429.8 592.6,429.9 591.0,430.5 C589.4,431.1 586.7,431.8 584.6,432.4 C582.5,432.9 580.4,433.7 578.3,433.8 C576.2,433.9 574.2,433.7 572.0,433.1 C569.8,432.5 567.3,431.2 565.0,430.3 C562.7,429.4 560.3,428.4 558.0,427.5 C555.7,426.6 552.9,425.6 551.0,424.7 C549.1,423.8 549.5,422.4 546.8,421.9 C544.1,421.4 537.0,428.6 535.0,421.9 C533.0,415.2 533.0,388.6 535.0,381.9 C537.0,375.2 544.1,381.3 546.8,381.9 Z" fill="url(#hp2k)"/>
<path d="M617,406.8 C612,405.8 606,405 600,405" stroke="#a86e5c" stroke-width="0.7" fill="none"/><ellipse cx="621.8" cy="405.4" rx="1.6" ry="1.2" fill="#e3c3b5"/><ellipse cx="627.3" cy="412.4" rx="2.2" ry="1.6" fill="#e6c8bb"/><ellipse cx="592.3" cy="427.2" rx="2.4" ry="2" fill="#e2c4b7"/><path d="M574,418.3 C580,419.5 586,420.5 591,422.5" stroke="#b07a66" stroke-width="0.7" fill="none"/><ellipse cx="604.4" cy="406.8" rx="3.3" ry="4.6" fill="none" stroke="#e02020" stroke-width="0.9" stroke-dasharray="1.3,0.5"/>
</g>
<linearGradient id="g_a1" x1="0" y1="0" x2="1" y2="0"><stop offset="0" stop-color="#d8ad8c"/><stop offset="0.45" stop-color="#e2b797"/><stop offset="0.75" stop-color="#e9c1a8"/><stop offset="1" stop-color="#efcdbd"/></linearGradient>
<path d="M80.2,493.7 C81.3,490.7 84.5,493.1 87.1,492.9 C89.7,492.6 93.8,492.6 96.0,492.2 C98.2,491.8 98.9,491.1 100.4,490.3 C101.9,489.5 103.2,488.1 104.9,487.5 C106.6,486.9 108.6,486.5 110.4,486.4 C112.2,486.3 114.0,486.4 116.0,487.0 C118.0,487.6 120.4,489.0 122.6,489.8 C124.8,490.6 127.1,491.4 129.3,492.0 C131.5,492.6 134.0,492.6 136.0,493.1 C138.0,493.6 139.9,494.1 141.5,494.8 C143.1,495.5 144.5,496.6 145.4,497.5 C146.3,498.4 146.9,499.3 147.0,500.3 C147.1,501.3 146.6,502.6 145.9,503.6 C145.2,504.6 144.1,505.5 142.6,506.4 C141.1,507.3 138.8,508.4 137.0,509.2 C135.2,510.0 133.3,510.8 131.5,511.4 C129.7,511.9 128.2,512.0 126.0,512.5 C123.8,513.0 120.6,513.8 118.2,514.2 C115.8,514.6 113.7,514.8 111.5,514.7 C109.3,514.6 106.9,514.2 104.9,513.6 C102.9,513.0 101.3,511.8 99.3,511.4 C97.2,511.0 95.0,511.2 92.6,511.1 C90.2,511.1 87.0,511.1 84.9,511.1 C82.8,511.1 81.0,514.0 80.2,511.1 C79.4,508.2 79.1,496.7 80.2,493.7 Z" fill="url(#g_a1)"/>
<path d="M124,497 L145,499 M124,502 L144,504.5 M123,506.5 L138,508.5" stroke="#d4a58e" stroke-width="0.7" fill="none"/>
<circle cx="113.70" cy="492.90" r="1.0" fill="#16206e"/><circle cx="115.52" cy="493.58" r="1.0" fill="#16206e"/><circle cx="117.17" cy="495.50" r="1.0" fill="#16206e"/><circle cx="118.38" cy="498.26" r="1.0" fill="#16206e"/><circle cx="118.77" cy="501.34" r="1.0" fill="#16206e"/><circle cx="118.05" cy="504.10" r="1.0" fill="#16206e"/><circle cx="116.22" cy="506.02" r="1.0" fill="#16206e"/><circle cx="113.70" cy="506.70" r="1.0" fill="#16206e"/><circle cx="111.18" cy="506.02" r="1.0" fill="#16206e"/><circle cx="109.35" cy="504.10" r="1.0" fill="#16206e"/><circle cx="108.63" cy="501.34" r="1.0" fill="#16206e"/><circle cx="109.02" cy="498.26" r="1.0" fill="#16206e"/><circle cx="110.23" cy="495.50" r="1.0" fill="#16206e"/><circle cx="111.88" cy="493.58" r="1.0" fill="#16206e"/>
<linearGradient id="g_a2" x1="0" y1="1" x2="0.3" y2="0"><stop offset="0" stop-color="#b87a58"/><stop offset="0.4" stop-color="#d49a78"/><stop offset="1" stop-color="#e2b096"/></linearGradient>
<path d="M156.7,492.7 L178.3,491.1 L196.2,488 L207.7,484.8 L212.5,481.2 L214,490.6 L216.7,501.1 L219.3,509 L210.9,508 L202.5,508 L192,509.5 L178.3,512.7 L162.5,516.9 L158.3,504.3 Z" fill="url(#g_a2)"/>
<path d="M178.2,491.5 C179.5,498 178.5,506 178.6,512.5" stroke="#8a6048" stroke-width="0.6" fill="none"/>
<circle cx="178.10" cy="494.90" r="1.0" fill="#f0e068"/><circle cx="180.13" cy="495.68" r="1.0" fill="#f0e068"/><circle cx="181.94" cy="497.84" r="1.0" fill="#f0e068"/><circle cx="183.15" cy="500.88" r="1.0" fill="#f0e068"/><circle cx="183.27" cy="504.11" r="1.0" fill="#f0e068"/><circle cx="182.01" cy="506.79" r="1.0" fill="#f0e068"/><circle cx="179.56" cy="508.30" r="1.0" fill="#f0e068"/><circle cx="176.64" cy="508.30" r="1.0" fill="#f0e068"/><circle cx="174.19" cy="506.79" r="1.0" fill="#f0e068"/><circle cx="172.93" cy="504.11" r="1.0" fill="#f0e068"/><circle cx="173.05" cy="500.88" r="1.0" fill="#f0e068"/><circle cx="174.26" cy="497.84" r="1.0" fill="#f0e068"/><circle cx="176.07" cy="495.68" r="1.0" fill="#f0e068"/>
<linearGradient id="g_a3" x1="0" y1="0" x2="0" y2="1"><stop offset="0" stop-color="#c78f62"/><stop offset="0.45" stop-color="#d29d70"/><stop offset="1" stop-color="#b67b4e"/></linearGradient>
<path d="M228,493.4 C238,489.8 258,484 277.1,479.5 C280,484 285,493 288.5,499.3 C278,504.5 262,511.5 242.9,517.2 C239,511 233,502 228,493.4 Z" fill="url(#g_a3)"/>
<circle cx="250.00" cy="492.30" r="1.0" fill="#4ccc5a"/><circle cx="251.95" cy="493.10" r="1.0" fill="#4ccc5a"/><circle cx="253.69" cy="495.32" r="1.0" fill="#4ccc5a"/><circle cx="254.86" cy="498.46" r="1.0" fill="#4ccc5a"/><circle cx="254.97" cy="501.78" r="1.0" fill="#4ccc5a"/><circle cx="253.76" cy="504.54" r="1.0" fill="#4ccc5a"/><circle cx="251.41" cy="506.10" r="1.0" fill="#4ccc5a"/><circle cx="248.59" cy="506.10" r="1.0" fill="#4ccc5a"/><circle cx="246.24" cy="504.54" r="1.0" fill="#4ccc5a"/><circle cx="245.03" cy="501.78" r="1.0" fill="#4ccc5a"/><circle cx="245.14" cy="498.46" r="1.0" fill="#4ccc5a"/><circle cx="246.31" cy="495.32" r="1.0" fill="#4ccc5a"/><circle cx="248.05" cy="493.10" r="1.0" fill="#4ccc5a"/>
</svg></body></html>
